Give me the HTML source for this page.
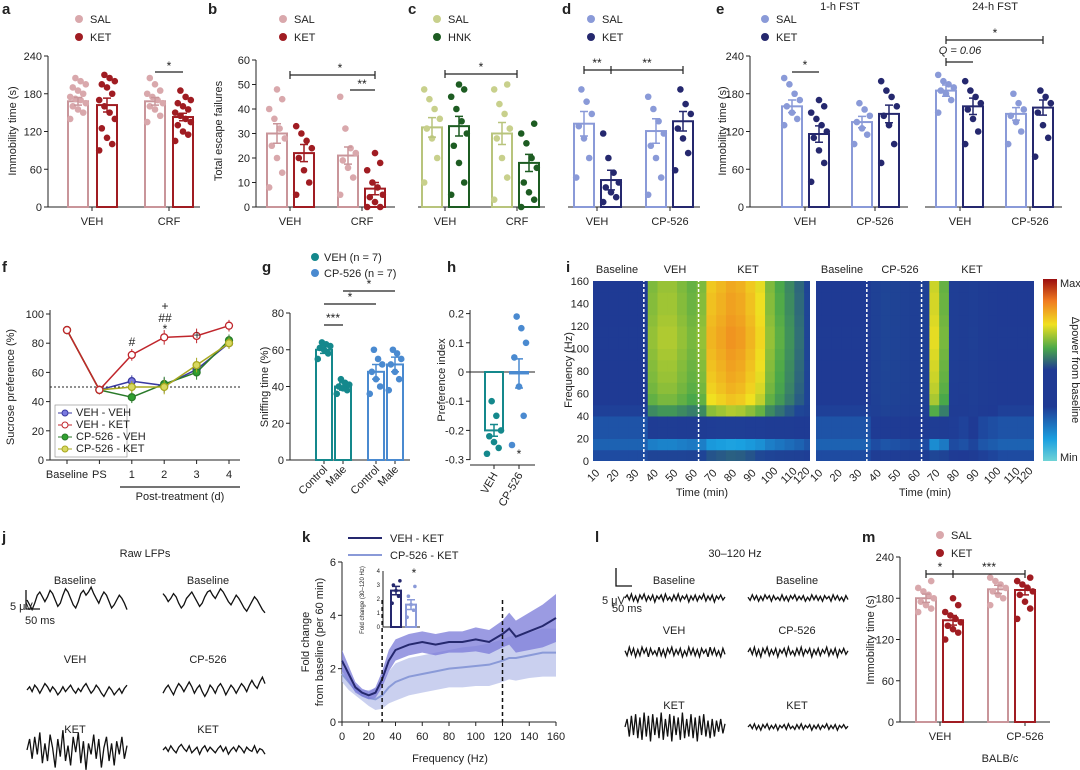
<!DOCTYPE html>
<html><head><meta charset="utf-8"><style>
html,body{margin:0;padding:0;background:#fff;}
svg{display:block;font-family:"Liberation Sans",sans-serif;}
text{font-family:"Liberation Sans",sans-serif;fill:#222;}
.t{font-size:11px;}
.L{font-size:15px;font-weight:bold;}
.ax{stroke:#222;stroke-width:1;fill:none;}
</style></head><body>
<svg id="fig" width="1080" height="770" viewBox="0 0 1080 770">
<defs><clipPath id="clipL"><rect x="593" y="279" width="217" height="182"/></clipPath><clipPath id="clipR"><rect x="816" y="279" width="218" height="182"/></clipPath>
<linearGradient id="cbar" x1="0" y1="1" x2="0" y2="0"><stop offset="0" stop-color="#6fd3d6"/><stop offset="0.12" stop-color="#1aa0e0"/><stop offset="0.3" stop-color="#1f3a94"/><stop offset="0.5" stop-color="#1f3a94"/><stop offset="0.62" stop-color="#4aa84a"/><stop offset="0.75" stop-color="#f0e020"/><stop offset="0.88" stop-color="#f07a20"/><stop offset="1" stop-color="#9a0e10"/></linearGradient></defs>
<g>
<text class="L" x="2" y="14">a</text><text class="L" x="208" y="14">b</text><text class="L" x="408" y="14">c</text><text class="L" x="562" y="14">d</text><text class="L" x="716" y="14">e</text>
<text class="L" x="2" y="272">f</text><text class="L" x="262" y="272">g</text><text class="L" x="447" y="272">h</text><text class="L" x="566" y="272">i</text>
<text class="L" x="2" y="542">j</text><text class="L" x="302" y="542">k</text><text class="L" x="595" y="542">l</text><text class="L" x="862" y="542">m</text>
</g>
<g id="axes"></g>
<g id="marks"></g>
<g>
<text class="t" transform="translate(16,131) rotate(-90)" text-anchor="middle">Immobility time (s)</text>
<text class="t" transform="translate(222,131) rotate(-90)" text-anchor="middle">Total escape failures</text>
<text class="t" transform="translate(726,131) rotate(-90)" text-anchor="middle">Immobility time (s)</text>
<text class="t" x="840" y="10" text-anchor="middle">1-h FST</text>
<text class="t" x="995" y="10" text-anchor="middle">24-h FST</text>
<text class="t" transform="translate(14,387) rotate(-90)" text-anchor="middle">Sucrose preference (%)</text>
<text class="t" x="180" y="500" text-anchor="middle">Post-treatment (d)</text>
<text class="t" transform="translate(268,387) rotate(-90)" text-anchor="middle">Sniffing time (%)</text>
<text class="t" transform="translate(445,380) rotate(-90)" text-anchor="middle">Preference index</text>
<text class="t" transform="translate(572,370) rotate(-90)" text-anchor="middle">Frequency (Hz)</text>
<text class="t" x="702" y="496" text-anchor="middle">Time (min)</text>
<text class="t" x="925" y="496" text-anchor="middle">Time (min)</text>
<text class="t" x="1060" y="287">Max</text><text class="t" x="1060" y="461">Min</text>
<text class="t" transform="translate(1072,370) rotate(90)" text-anchor="middle">Δpower from baseline</text>
<text class="t" transform="translate(309,642) rotate(-90)" text-anchor="middle">Fold change</text>
<text class="t" transform="translate(323,642) rotate(-90)" text-anchor="middle">from baseline (per 60 min)</text>
<text class="t" x="450" y="762" text-anchor="middle">Frequency (Hz)</text>
<text class="t" transform="translate(874,640) rotate(-90)" text-anchor="middle">Immobility time (s)</text>
<text class="t" x="1000" y="762" text-anchor="middle">BALB/c</text>
<text class="t" x="145" y="557" text-anchor="middle">Raw LFPs</text>
<text class="t" x="75" y="584" text-anchor="middle">Baseline</text><text class="t" x="208" y="584" text-anchor="middle">Baseline</text>
<text class="t" x="75" y="663" text-anchor="middle">VEH</text><text class="t" x="208" y="663" text-anchor="middle">CP-526</text>
<text class="t" x="75" y="733" text-anchor="middle">KET</text><text class="t" x="208" y="733" text-anchor="middle">KET</text>
<text class="t" x="735" y="557" text-anchor="middle">30–120 Hz</text>
<text class="t" x="674" y="584" text-anchor="middle">Baseline</text><text class="t" x="797" y="584" text-anchor="middle">Baseline</text>
<text class="t" x="674" y="634" text-anchor="middle">VEH</text><text class="t" x="797" y="634" text-anchor="middle">CP-526</text>
<text class="t" x="674" y="709" text-anchor="middle">KET</text><text class="t" x="797" y="709" text-anchor="middle">KET</text>
<text class="t" x="602" y="604" font-size="10">5 μV</text><text class="t" x="612" y="612" font-size="10">50 ms</text>
<text class="t" x="10" y="610" font-size="10">5 μV</text><text class="t" x="25" y="624" font-size="10">50 ms</text>
<text class="t" x="617" y="273" text-anchor="middle">Baseline</text><text class="t" x="675" y="273" text-anchor="middle">VEH</text><text class="t" x="748" y="273" text-anchor="middle">KET</text>
<text class="t" x="842" y="273" text-anchor="middle">Baseline</text><text class="t" x="900" y="273" text-anchor="middle">CP-526</text><text class="t" x="972" y="273" text-anchor="middle">KET</text>
</g>
<g>
<circle cx="79" cy="19" r="4" fill="#d9a8ac"/><text class="t" x="90" y="23">SAL</text>
<circle cx="79" cy="37" r="4" fill="#a01c22"/><text class="t" x="90" y="41">KET</text>
<circle cx="283" cy="19" r="4" fill="#d9a8ac"/><text class="t" x="294" y="23">SAL</text>
<circle cx="283" cy="37" r="4" fill="#a01c22"/><text class="t" x="294" y="41">KET</text>
<circle cx="437" cy="19" r="4" fill="#c8d08c"/><text class="t" x="448" y="23">SAL</text>
<circle cx="437" cy="37" r="4" fill="#1d5c22"/><text class="t" x="448" y="41">HNK</text>
<circle cx="591" cy="19" r="4" fill="#8a9ad8"/><text class="t" x="602" y="23">SAL</text>
<circle cx="591" cy="37" r="4" fill="#25286e"/><text class="t" x="602" y="41">KET</text>
<circle cx="765" cy="19" r="4" fill="#8a9ad8"/><text class="t" x="776" y="23">SAL</text>
<circle cx="765" cy="37" r="4" fill="#25286e"/><text class="t" x="776" y="41">KET</text>
<circle cx="315" cy="257" r="4" fill="#14888c"/><text class="t" x="324" y="261" font-size="10">VEH (n = 7)</text>
<circle cx="315" cy="273" r="4" fill="#4a8ad0"/><text class="t" x="324" y="277" font-size="10">CP-526 (n = 7)</text>
<circle cx="940" cy="535" r="4" fill="#d9a8ac"/><text class="t" x="951" y="539">SAL</text>
<circle cx="940" cy="553" r="4" fill="#a01c22"/><text class="t" x="951" y="557">KET</text>
<line x1="348" y1="538" x2="382" y2="538" stroke="#25286e" stroke-width="2"/><text class="t" x="390" y="542" font-size="10">VEH - KET</text>
<line x1="348" y1="555" x2="382" y2="555" stroke="#8a9ad8" stroke-width="2"/><text class="t" x="390" y="559" font-size="10">CP-526 - KET</text>
<rect x="55" y="405" width="72" height="52" fill="#fff" stroke="#888" stroke-width="0.6"/>
<line x1="58" y1="413" x2="72" y2="413" stroke="#3a3aa0"/><circle cx="65" cy="413" r="3" fill="#7a7ae0" stroke="#3a3aa0"/><text class="t" x="76" y="416" font-size="9">VEH - VEH</text>
<line x1="58" y1="425" x2="72" y2="425" stroke="#c0262c"/><circle cx="65" cy="425" r="3" fill="#fff" stroke="#c0262c"/><text class="t" x="76" y="428" font-size="9">VEH - KET</text>
<line x1="58" y1="437" x2="72" y2="437" stroke="#2a7a2a"/><circle cx="65" cy="437" r="3" fill="#2fa02f" stroke="#2a7a2a"/><text class="t" x="76" y="440" font-size="9">CP-526 - VEH</text>
<line x1="58" y1="449" x2="72" y2="449" stroke="#a8a820"/><circle cx="65" cy="449" r="3" fill="#d8d860" stroke="#a8a820"/><text class="t" x="76" y="452" font-size="9">CP-526 - KET</text>
<rect x="1043" y="279" width="14" height="182" fill="url(#cbar)"/>
</g>
<g stroke="#222" stroke-width="1.2" fill="none">
<path d="M155 72H183"/><path d="M290 75H375M290 71V79M375 71V79"/><path d="M350 90H375"/><path d="M445 74H517M445 70V78M517 70V78"/>
<path d="M584 70H683M611 66V74M584 66V74M683 66V74"/><path d="M792 72H819"/><path d="M946 62H973M946 58V66"/><path d="M946 40H1043M946 36V44M1043 36V44"/>
<path d="M926 574H1025M953 570V578M926 570V578M1025 570V578"/>
<path d="M324 325H343"/><path d="M324 304H376"/><path d="M343 291H395"/>
<path d="M120 487H240"/>
</g>
<g font-size="12">
<text x="169" y="70" text-anchor="middle">*</text><text x="340" y="72" text-anchor="middle">*</text><text x="362" y="88" text-anchor="middle">**</text>
<text x="481" y="71" text-anchor="middle">*</text><text x="597" y="67" text-anchor="middle">**</text><text x="647" y="67" text-anchor="middle">**</text>
<text x="805" y="69" text-anchor="middle">*</text><text x="960" y="54" text-anchor="middle" font-size="11" font-style="italic">Q = 0.06</text><text x="995" y="37" text-anchor="middle">*</text>
<text x="940" y="571" text-anchor="middle">*</text><text x="989" y="571" text-anchor="middle">***</text>
<text x="333" y="322" text-anchor="middle">***</text><text x="350" y="301" text-anchor="middle">*</text><text x="369" y="288" text-anchor="middle">*</text>
<text x="132" y="346" text-anchor="middle">#</text><text x="165" y="322" text-anchor="middle">##</text><text x="165" y="333" text-anchor="middle">*</text><text x="165" y="310" text-anchor="middle">+</text><text x="197" y="339" text-anchor="middle">+</text>
<text x="519" y="458" text-anchor="middle">*</text>
<text x="414" y="577" text-anchor="middle">*</text>
</g>
</svg>
<script>
const groupCatsA=['VEH','CRF'];
const aSalMean=[168,168], aSalErr=[6,6], aKetMean=[162,143], aKetErr=[11,6];
const aDots=[[140,150,155,160,165,170,172,175,180,185,190,195,200,205],[90,100,110,125,140,150,160,170,180,190,195,200,205,210],[135,145,155,160,165,170,175,180,185,195,205],[105,115,120,130,135,140,145,150,155,160,165,170,175,185]];
const bMean=[30,22,21,7.5], bErr=[4,3.5,3.5,2.5];
const bDots=[[8,14,20,25,28,32,36,40,44,48],[5,10,15,20,24,27,30,33],[5,12,16,19,22,24,32,45],[0,0,2,4,5,8,10,15,18,22]];
const cMean=[32.5,33,30,18], cErr=[4,4,4.5,3.5];
const cDots=[[10,20,28,32,36,40,44,48],[5,10,18,25,30,35,40,45,48,50],[3,12,20,28,32,38,42,48,50],[0,3,6,10,16,20,26,30,34]];
const dCats=['VEH','CP-526'];
const dMean=[34,11,31,35], dErr=[5,4,5,4];
const dDots=[[12,20,28,33,38,43,48],[2,4,6,8,10,14,20,30],[5,12,20,25,30,35,40,45],[15,22,28,32,38,42,48]];
const e1Mean=[160,116,135,148], e1Err=[10,13,9,14];
const e1Dots=[[130,140,150,160,170,180,195,205],[40,70,90,110,120,130,140,150,160,170],[100,115,125,135,145,155,165],[70,100,130,145,160,175,185,200]];
const e2Mean=[185,160,148,158], e2Err=[9,13,10,12];
const e2Dots=[[150,170,180,185,190,195,200,210],[100,120,140,155,165,175,185,200],[100,120,135,145,155,165,180],[80,110,130,150,165,175,185]];
const fCats=['Baseline','PS','1','2','3','4'];
const fVehVeh=[89,48,54,51,62,80], fVehKet=[89,48,72,84,85,92], fCpVeh=[89,48,43,52,60,82], fCpKet=[89,48,50,50,65,80];
const fErr=[2,3,4,5,5,4];
const gCats=['Control','Male','Control','Male'];
const gMean=[60,40,48,52], gErr=[2,2,4,4];
const gDots=[[55,58,60,61,62,63,64],[36,38,39,40,41,42,44],[36,40,44,48,52,55,60],[38,44,48,52,55,58,60]];
const hCats=['VEH','CP-526'];
const hMean=[-0.2,-0.005], hErr=[0.02,0.05];
const hDots=[[-0.28,-0.26,-0.24,-0.22,-0.2,-0.15,-0.1],[-0.25,-0.15,-0.05,0.05,0.1,0.15,0.19]];
const mMean=[180,148,193,192], mErr=[6,7,6,7];
const mDots=[[160,165,170,175,180,185,190,195,205],[120,130,135,140,145,150,155,160,170,180],[170,180,185,190,195,200,205,210],[150,165,175,185,190,195,200,205,210]];
const kFreq=[0,5,10,15,20,25,30,35,40,50,60,70,80,90,100,110,120,125,130,140,150,160];
const kVeh=[2.3,1.8,1.3,1.1,1.0,1.1,1.6,2.3,2.7,2.9,3.0,2.9,3.0,3.0,3.1,3.0,3.3,3.5,3.2,3.4,3.6,3.9];
const kVehErr=[0.4,0.3,0.2,0.15,0.15,0.2,0.3,0.4,0.4,0.4,0.4,0.4,0.4,0.4,0.45,0.45,0.5,0.6,0.6,0.7,0.8,0.9];
const kCp=[1.8,1.5,1.2,1.0,0.9,0.85,1.0,1.3,1.5,1.7,1.8,1.9,2.0,2.05,2.1,2.15,2.3,2.4,2.4,2.5,2.6,2.6];
const kCpErr=[0.3,0.3,0.2,0.2,0.3,0.4,0.5,0.6,0.7,0.7,0.7,0.7,0.7,0.75,0.75,0.8,0.8,0.8,0.85,0.85,0.9,0.9];
const kInsetMean=[2.6,1.6], kInsetErr=[0.3,0.35];
const kInsetDots=[[1.7,2.2,2.6,3.0,3.3],[0.7,1.2,1.6,2.2,2.9]];
const iLeftTime=[0.3,0.3,0.3,0.3,0.3,0.3,0.3,0.6,0.62,0.62,0.6,0.58,0.6,0.72,0.74,0.76,0.75,0.72,0.68,0.6,0.56,0.52,0.48,0.42,0.4];
const iRightTime=[0.3,0.3,0.3,0.3,0.3,0.3,0.3,0.38,0.42,0.4,0.38,0.36,0.38,0.66,0.58,0.34,0.33,0.35,0.32,0.31,0.3,0.3,0.3,0.3,0.3];
const iFreqMod=[-0.6,-1.4,-0.9,-0.9,-0.2,0.0,0.05,0.08,0.1,0.12,0.14,0.14,0.12,0.1,0.1,0.08];
const jBase1=[0,-.3,-.6,-.2,.3,.5,.2,-.1,.2,.6,.4,0,-.4,-.2,.3,.7,.5,.1,-.3,-.5,-.1,.4,.6,.3,.5,.8,.4,.1,-.2,.2,.5,.3,-.1,-.5,-.3,0,.3,.1,-.2,-.6];
const jBase2=[.4,.2,-.1,.1,.4,.2,-.2,-.5,-.3,.1,.3,.5,.2,-.1,-.4,-.2,.2,.5,.6,.3,.1,.4,.7,.5,.2,-.1,-.3,0,.3,.1,-.2,-.5,-.7,-.4,-.1,.2,0,-.3,-.6,-.8];
const jVeh=[0,.2,-.1,.3,.1,-.2,.1,.4,.2,-.1,.2,0,-.3,-.1,.2,-.1,.1,.3,0,-.2,.1,-.1,.2,.4,.1,-.2,0,.3,.1,-.2,-.4,-.1,.2,0,-.3,-.1,.1,-.2,.1,.3];
const jCp=[-.2,.1,.3,0,-.3,.1,.4,.2,-.1,.2,.5,.2,-.2,.1,.3,-.1,-.4,-.1,.3,.1,-.2,.2,.4,.1,-.3,0,.3,.1,-.2,.1,.4,.2,-.1,.3,.6,.3,.1,.5,.8,.4];
const jKet=[0,.5,-.4,.6,-.2,.8,-.6,.3,-.5,.7,.1,-.8,.5,-.3,.9,-.5,.2,-.7,.6,-.1,.8,-.6,.4,-.9,.3,-.2,.7,-.4,.5,-.8,.1,.6,-.5,.3,-.7,.4,-.2,.6,-.4,.2];
const jKet2=[0,.2,-.1,.3,0,-.2,.2,.4,.1,-.1,.3,-.2,0,.2,-.3,.1,.3,-.1,.2,0,-.2,.1,.3,-.1,.2,-.3,0,.2,-.1,.3,.1,-.2,.2,0,-.1,.3,-.2,.1,0,-.3];
const lOsc1=[0,.3,-.2,.4,-.3,.2,-.4,.3,-.1,.4,-.3,.2,-.2,.3,-.4,.2,-.1,.3,-.3,.4,-.2,.1,-.3,.3,-.2,.4,-.3,.2,-.1,.3,-.4,.2,-.2,.3,-.3,.2,-.1,.4,-.3,.2,-.2,.3,-.4,.2,-.1,.3,-.2,.1];
const lOsc2=[.1,-.3,.4,-.2,.3,-.4,.2,-.3,.4,-.1,.3,-.4,.3,-.2,.1,-.3,.4,-.3,.2,-.4,.3,-.1,.4,-.3,.2,-.2,.3,-.4,.1,-.3,.4,-.2,.3,-.3,.2,-.4,.3,-.1,.2,-.4,.4,-.2,.3,-.3,.1,-.4,.3,-.2];
const lKet=[0,.5,-.6,.7,-.5,.8,-.7,.6,-.8,.9,-.6,.7,-.9,.8,-.5,.6,-.7,.9,-.8,.5,-.6,.8,-.9,.7,-.5,.6,-.8,.9,-.7,.5,-.6,.8,-.7,.6,-.9,.7,-.5,.8,-.6,.4,-.7,.5,-.6,.4,-.3,.5,-.4,.2];

const NS='http://www.w3.org/2000/svg';
const axes=document.getElementById('axes'), marks=document.getElementById('marks');
function mk(tag,attrs,parent){const e=document.createElementNS(NS,tag);for(const k in attrs)e.setAttribute(k,attrs[k]);parent.appendChild(e);return e;}
function lin(d0,d1,r0,r1){return v=>r0+(v-d0)*(r1-r0)/(d1-d0);}
function yAxis(x,ys,ticks,fmt,y0,y1){
  const l=mk('line',{x1:x,x2:x,y1:y0,y2:y1,class:'ax'},axes);
  
  
  ticks.forEach(t=>{const y=ys(t);mk('line',{x1:x-4,x2:x,y1:y,y2:y,class:'ax'},axes);
    const tx=mk('text',{x:x-6,y:y+4,'text-anchor':'end',class:'t'},axes);tx.textContent=fmt?fmt(t):t;
    
    });
}
function xAxis(x0,x1,y,centers,labels,rot){
  const l=mk('line',{x1:x0,x2:x1,y1:y,y2:y,class:'ax'},axes);
  
  
  centers.forEach((c,i)=>{mk('line',{x1:c,x2:c,y1:y,y2:y+4,class:'ax'},axes);
    const tx=rot?mk('text',{transform:`translate(${c+4},${y+10}) rotate(${rot})`,'text-anchor':'end',class:'t'},axes):mk('text',{x:c,y:y+18,'text-anchor':'middle',class:'t'},axes);
    tx.textContent=labels[i];
    
    });
}
function bars(xs,means,errs,dots,strokes,fills,ys,base,w,rad){
  const jit=w/20;
  xs.forEach((x,i)=>{const yv=ys(means[i]);
    const r=mk('rect',{x:x-w/2,y:Math.min(yv,base),width:w,height:Math.abs(base-yv),fill:'#fff',stroke:strokes[i],'stroke-width':2},marks);
    
    
    dots[i].forEach((v,j)=>{const c=mk('circle',{cx:x+((j*5)%7-3)*2.6*jit,cy:ys(v),r:rad||3.3,fill:fills[i]},marks);
      
      });
    const e=mk('path',{d:`M${x} ${ys(means[i]-errs[i])}V${ys(means[i]+errs[i])}M${x-4} ${ys(means[i]-errs[i])}H${x+4}M${x-4} ${ys(means[i]+errs[i])}H${x+4}`,stroke:strokes[i],'stroke-width':1.5,fill:'none'},marks);
    
    
  });
}
const pink='#c9959a',pinkD='#d9a8ac',red='#a01c22',ol='#b8c47c',olD='#c8d08c',grn='#1d5c22',lb='#8a9ad8',nv='#25286e',teal='#14888c',bl='#4a8ad0';

const ya=lin(0,240,207,56);
yAxis(48,ya,[0,60,120,180,240],null,207,56);
xAxis(48,200,207,[92,169],groupCatsA);
bars([78,107,155,183],[aSalMean[0],aKetMean[0],aSalMean[1],aKetMean[1]],[aSalErr[0],aKetErr[0],aSalErr[1],aKetErr[1]],aDots,[pink,red,pink,red],[pinkD,red,pinkD,red],ya,207,20);
const yb=lin(0,60,207,60);
yAxis(256,yb,[0,10,20,30,40,50,60],null,207,60);
xAxis(256,395,207,[290,362],groupCatsA);
bars([277,304,348,375],bMean,bErr,bDots,[pink,red,pink,red],[pinkD,red,pinkD,red],yb,207,20);
xAxis(418,545,207,[445,517],groupCatsA);
bars([432,459,502,529],cMean,cErr,cDots,[ol,grn,ol,grn],[olD,grn,olD,grn],yb,207,20);
xAxis(568,700,207,[597,670],dCats);
bars([584,611,656,683],dMean,dErr,dDots,[lb,nv,lb,nv],[lb,nv,lb,nv],yb,207,20);
yAxis(750,ya,[0,60,120,180,240],null,207,56);
xAxis(750,908,207,[805,875],dCats);
bars([792,819,862,889],e1Mean,e1Err,e1Dots,[lb,nv,lb,nv],[lb,nv,lb,nv],ya,207,20);
xAxis(925,1062,207,[960,1030],dCats);
bars([946,973,1016,1043],e2Mean,e2Err,e2Dots,[lb,nv,lb,nv],[lb,nv,lb,nv],ya,207,20);
const yf=lin(0,100,460,314), xf=i=>67+i*32.4;
yAxis(50,yf,[0,20,40,60,80,100],null,460,310);
xAxis(50,240,460,fCats.map((c,i)=>xf(i)),fCats);
const dl=mk('line',{x1:50,x2:240,y1:yf(50),y2:yf(50),stroke:'#222','stroke-dasharray':'2,2'},marks);


[[fVehVeh,'#3a3aa0','#7a7ae0','veh-veh'],[fCpVeh,'#2a7a2a','#2fa02f','cp-veh'],[fCpKet,'#a8a820','#d8d860','cp-ket'],[fVehKet,'#c0262c','#fff','veh-ket']].forEach(s=>{
  const p=mk('polyline',{points:s[0].map((v,i)=>xf(i)+','+yf(v)).join(' '),fill:'none',stroke:s[1],'stroke-width':1.5},marks);
  
  
  s[0].forEach((v,i)=>{mk('path',{d:`M${xf(i)} ${yf(v-fErr[i])}V${yf(v+fErr[i])}`,stroke:s[1]},marks);
    const c=mk('circle',{cx:xf(i),cy:yf(v),r:3.5,fill:s[2],stroke:s[1],'stroke-width':1.3},marks);
    
    });
});
const yg=lin(0,80,460,313);
yAxis(290,yg,[0,20,40,60,80],null,460,313);
xAxis(290,410,460,[324,343,376,395],gCats,-45);
bars([324,343,376,395],gMean,gErr,gDots,[teal,teal,bl,bl],[teal,teal,bl,bl],yg,460,16);
const yh=lin(0,0.1,372,342.8);
yAxis(470,yh,[0.2,0.1,0,-0.1,-0.2,-0.3],t=>t===0?'0':t.toFixed(1),460,310);
const hz=mk('line',{x1:470,x2:535,y1:yh(0),y2:yh(0),class:'ax'},axes);


xAxis(470,535,465,[494,519],hCats,-60);
bars([494,519],hMean,hErr,hDots,[teal,bl],[teal,bl],yh,yh(0),18);
function cmap(v){const st=[[0,[111,211,214]],[0.12,[26,160,224]],[0.3,[31,58,148]],[0.45,[31,70,150]],[0.58,[74,168,74]],[0.72,[240,224,32]],[0.86,[240,122,32]],[1,[154,14,16]]];
  v=Math.max(0,Math.min(1,v));for(let k=1;k<st.length;k++){if(v<=st[k][0]){const a=st[k-1],b=st[k],f=(v-a[0])/(b[0]-a[0]);return 'rgb('+a[1].map((c,q)=>Math.round(c+(b[1][q]-c)*f)).join(',')+')';}}return 'rgb(154,14,16)';}
const yi=lin(0,160,461,281);
function heat(timeArr,x0,clip,name){const xi=lin(7,118,x0,x0+217);const g=mk('g',{'clip-path':`url(#${clip})`},marks);
  
  
  timeArr.forEach((b,t)=>{iFreqMod.forEach((m,f)=>{let v=b+m*Math.max(b-0.3,0.05);
    const r=mk('rect',{x:xi(t*5),y:yi((f+1)*10),width:xi(5)-xi(0)+0.5,height:yi(0)-yi(10)+0.5,fill:cmap(v)},g);
    
    });});
  [33,61].forEach(t=>{const d=mk('line',{x1:xi(t),x2:xi(t),y1:279,y2:461,stroke:'#fff','stroke-width':1.5,'stroke-dasharray':'3,2'},g);
    
    });
  [10,20,30,40,50,60,70,80,90,100,110,120].forEach(t=>{const x=Math.min(xi(t),x0+214)-3;const tx=mk('text',{transform:`translate(${x},${478}) rotate(-45)`,'text-anchor':'middle',class:'t'},axes);tx.textContent=t;
    
    });
}
heat(iLeftTime,593,'clipL','spectrogram-left');
heat(iRightTime,816,'clipR','spectrogram-right');
[0,20,40,60,80,100,120,140,160].forEach(t=>{const tx=mk('text',{x:589,y:yi(t)+4,'text-anchor':'end',class:'t'},axes);tx.textContent=t;
  
  });
const xk=lin(0,160,342,556), yk=lin(0,6,722,562);
yAxis(342,yk,[0,2,4,6],null,722,562);
xAxis(342,556,722,[0,20,40,60,80,100,120,140,160].map(xk),[0,20,40,60,80,100,120,140,160]);
[[kCp,kCpErr,'#8a9ad8','#b8c0ea','cp-ket'],[kVeh,kVehErr,'#25286e','#7a7ad8','veh-ket']].forEach(s=>{
  const up=kFreq.map((f,i)=>xk(f)+','+yk(s[0][i]+s[1][i])), dn=kFreq.map((f,i)=>xk(f)+','+yk(s[0][i]-s[1][i])).reverse();
  const b=mk('polygon',{points:up.concat(dn).join(' '),fill:s[3],'fill-opacity':0.75},marks);
  
  
  const p=mk('polyline',{points:kFreq.map((f,i)=>xk(f)+','+yk(s[0][i])).join(' '),fill:'none',stroke:s[2],'stroke-width':2},marks);
  
  
});
[30,120].forEach(f=>{const d=mk('line',{x1:xk(f),x2:xk(f),y1:600,y2:722,stroke:'#111','stroke-width':1.5,'stroke-dasharray':'4,3'},marks);
  
  });
const yki=lin(0,4,627,571);
const ia=mk('path',{d:'M383 571V627H420',class:'ax'},axes);


[0,1,2,3,4].forEach(t=>{const tx=mk('text',{x:380,y:yki(t)+2,'text-anchor':'end','font-size':6},axes);tx.textContent=t;
  
  });
const itl=mk('text',{transform:'translate(364,600) rotate(-90)','text-anchor':'middle','font-size':6},axes);
itl.textContent='Fold change (30–120 Hz)';


bars([396,411],kInsetMean,kInsetErr,kInsetDots,[nv,lb],[nv,lb],yki,627,10,1.8);
const ym=lin(0,240,722,557);
yAxis(900,ym,[0,60,120,180,240],null,722,557);
xAxis(900,1050,722,[940,1025],dCats);
bars([926,953,998,1025],mMean,mErr,mDots,[pink,red,pink,red],[pinkD,red,pinkD,red],ym,722,20);
function trace(arr,x0,w,yc,amp,name){const p=mk('polyline',{points:arr.map((v,i)=>(x0+i*w/(arr.length-1)).toFixed(1)+','+(yc-v*amp).toFixed(1)).join(' '),fill:'none',stroke:'#111','stroke-width':1.3},marks);
  
  }
trace(jBase1,27,100,600,16,'trace-baseline-veh');
trace(jBase2,163,102,600,16,'trace-baseline-cp');
trace(jVeh,27,100,690,16,'trace-veh');
trace(jCp,163,102,690,16,'trace-cp526');
trace(jKet,27,100,750,22,'trace-ket-veh');
trace(jKet2,163,102,750,14,'trace-ket-cp');
trace(lOsc1,625,100,598,10,'filtered-baseline-veh');
trace(lOsc2,748,100,598,8,'filtered-baseline-cp');
trace(lOsc2,625,100,652,12,'filtered-veh');
trace(lOsc1,748,100,652,12,'filtered-cp526');
trace(lKet,625,100,727,16,'filtered-ket-veh');
trace(lOsc1,748,100,727,8,'filtered-ket-cp');
const sb1=mk('path',{d:'M26 590V609H40',stroke:'#111','stroke-width':1.3,fill:'none'},marks);


const sb2=mk('path',{d:'M616 568V586H632',stroke:'#111','stroke-width':1.3,fill:'none'},marks);


</script>
</body></html>
